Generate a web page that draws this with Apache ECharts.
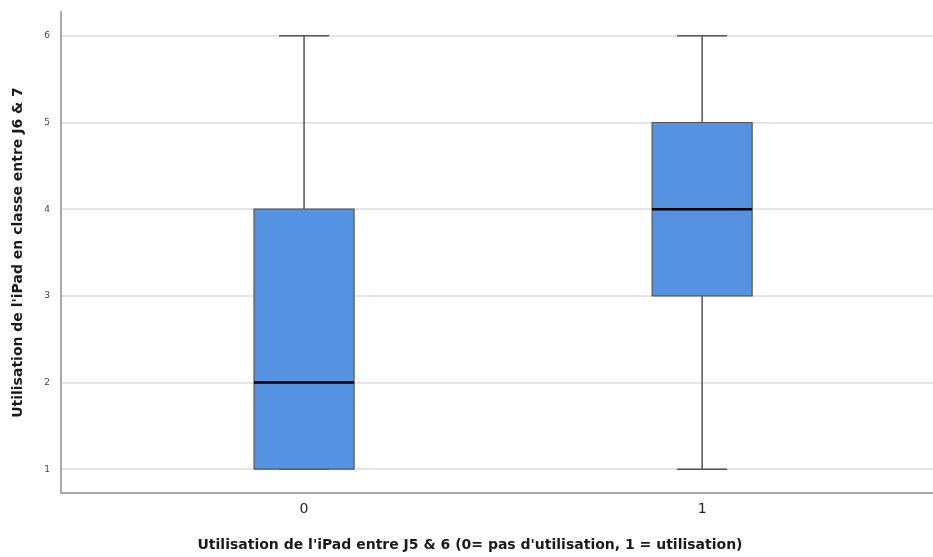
<!DOCTYPE html>
<html><head><meta charset="utf-8">
<script src="https://cdn.jsdelivr.net/npm/echarts@6/dist/echarts.min.js"></script>
<style>html,body{margin:0;padding:0;background:#fff}#c{width:933px;height:557px}</style>
</head><body><div id="c"></div>
<script>
var categories = ['0', '1'];
var whiskerLow = [1, 1];
var q1 = [1, 3];
var median = [2, 4];
var q3 = [4, 5];
var whiskerHigh = [6, 6];
var yTicks = [1, 2, 3, 4, 5, 6];

var data = categories.map(function (c, i) {
  return [i, whiskerLow[i], q1[i], median[i], q3[i], whiskerHigh[i]];
});

var chart = echarts.init(document.getElementById('c'));
chart.setOption({
  animation: false,
  grid: { left: 61, right: 0, top: 12, bottom: 61, containLabel: false },
  xAxis: {
    type: 'value', min: -0.6106, max: 1.58,
    axisLine: { show: true, onZero: false, lineStyle: { color: '#a8a8a8', width: 2 } },
    axisTick: { show: false },
    splitLine: { show: false },
    axisLabel: { customValues: [0, 1], formatter: function (v) { return categories[Math.round(v)]; },
      fontSize: 14, color: '#222', margin: 9, fontFamily: 'DejaVu Sans' },
    name: "Utilisation de l'iPad entre J5 & 6 (0= pas d'utilisation, 1 = utilisation)",
    nameLocation: 'middle', nameGap: 45,
    nameTextStyle: { fontSize: 14, fontWeight: 'bold', color: '#1a1a1a', fontFamily: 'DejaVu Sans',
      padding: [0, 54, 0, 0] }
  },
  yAxis: {
    type: 'value', min: 0.725, max: 6.275,
    axisLine: { show: true, onZero: false, lineStyle: { color: '#a8a8a8', width: 2 } },
    axisTick: { show: false, customValues: yTicks },
    splitLine: { show: true, lineStyle: { color: '#dcdcdc', width: 1.5 } },
    axisLabel: { customValues: yTicks, fontSize: 9, color: '#444', margin: 11, fontFamily: 'DejaVu Sans' },
    name: "Utilisation de l'iPad en classe entre J6 & 7",
    nameLocation: 'middle', nameGap: 36, nameRotate: 90,
    nameTextStyle: { fontSize: 14, fontWeight: 'bold', color: '#1a1a1a', fontFamily: 'DejaVu Sans' }
  },
  series: [{
    type: 'custom',
    data: data,
    renderItem: function (params, api) {
      var x = api.value(0);
      var pLow = api.coord([x, api.value(1)]);
      var pQ1 = api.coord([x, api.value(2)]);
      var pMed = api.coord([x, api.value(3)]);
      var pQ3 = api.coord([x, api.value(4)]);
      var pHigh = api.coord([x, api.value(5)]);
      var halfBox = api.size([0.2513, 0])[0] / 2;
      var halfCap = halfBox / 2;
      var cx = pLow[0];
      var wStyle = { stroke: '#555', lineWidth: 1.5 };
      return {
        type: 'group',
        children: [
          { type: 'line', shape: { x1: cx, y1: pHigh[1], x2: cx, y2: pQ3[1] }, style: wStyle },
          { type: 'line', shape: { x1: cx, y1: pLow[1], x2: cx, y2: pQ1[1] }, style: wStyle },
          { type: 'line', shape: { x1: cx - halfCap, y1: pHigh[1], x2: cx + halfCap, y2: pHigh[1] }, style: wStyle },
          { type: 'line', shape: { x1: cx - halfCap, y1: pLow[1], x2: cx + halfCap, y2: pLow[1] }, style: wStyle },
          { type: 'rect', shape: { x: cx - halfBox, y: pQ3[1], width: halfBox * 2, height: pQ1[1] - pQ3[1] },
            style: { fill: '#5592e2', stroke: '#555', lineWidth: 1.2 } },
          { type: 'line', shape: { x1: cx - halfBox, y1: pMed[1], x2: cx + halfBox, y2: pMed[1] },
            style: { stroke: '#000', lineWidth: 2.5 } }
        ]
      };
    }
  }]
});
</script></body></html>
